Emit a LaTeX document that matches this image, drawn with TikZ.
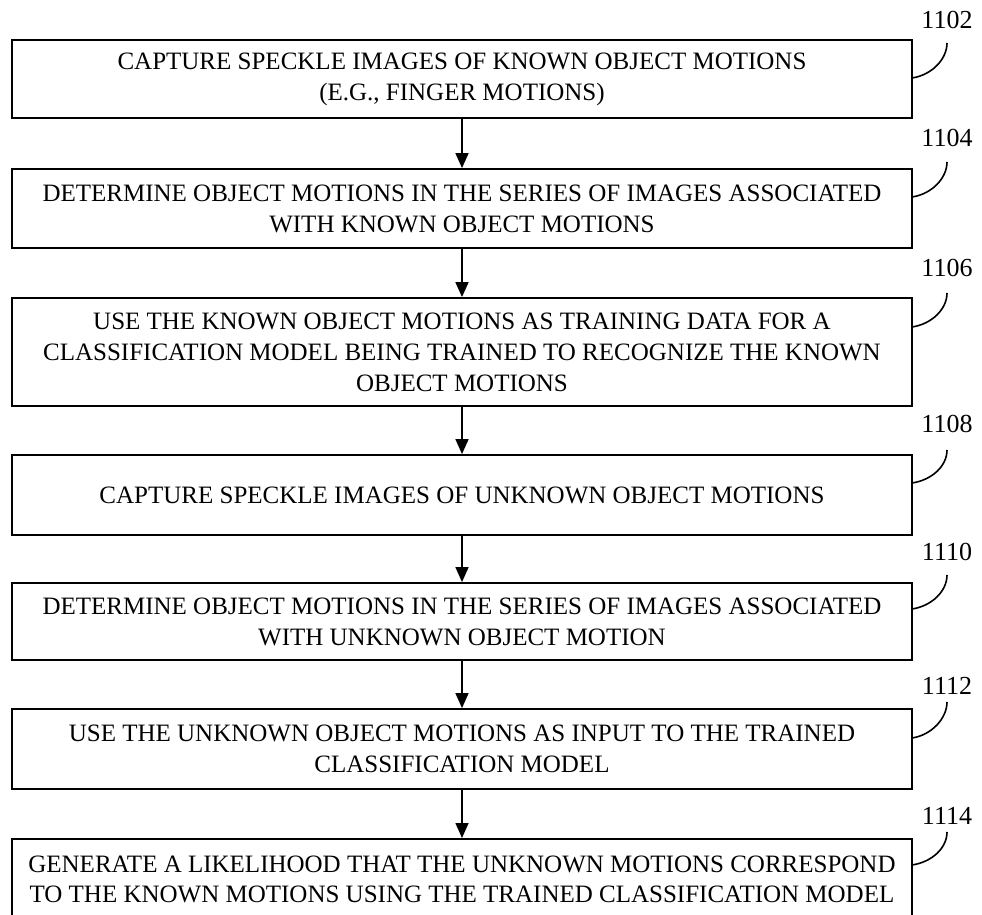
\documentclass[tikz,border=0pt]{standalone}
\usepackage{fontspec}
\setmainfont{Liberation Serif}
\usetikzlibrary{arrows.meta}
\begin{document}
\begin{tikzpicture}[x=1pt,y=-1pt,
  stepbox/.style={draw=black, line width=1.8pt, rectangle, minimum width=900pt, inner sep=0pt,
    align=center, font=\fontsize{25}{31}\selectfont},
  flow/.style={line width=1.6pt, -{Triangle[width=13pt,length=15pt]}},
  hook/.style={line width=1.6pt},
  reflabel/.style={font=\fontsize{26}{26}\selectfont, inner sep=0pt}]
\useasboundingbox (0,0) rectangle (982,915);
\clip (0,0) rectangle (982,915);
\node[stepbox, minimum height=78pt] (b1) at (462,79) {CAPTURE SPECKLE IMAGES OF KNOWN OBJECT MOTIONS\\(E.G., FINGER MOTIONS)};
\node[stepbox, minimum height=79pt] (b2) at (462,208.5) {DETERMINE OBJECT MOTIONS IN THE SERIES OF IMAGES ASSOCIATED\\WITH KNOWN OBJECT MOTIONS};
\node[stepbox, minimum height=108pt] (b3) at (462,352) {USE THE KNOWN OBJECT MOTIONS AS TRAINING DATA FOR A\\CLASSIFICATION MODEL BEING TRAINED TO RECOGNIZE THE KNOWN\\OBJECT MOTIONS};
\node[stepbox, minimum height=80pt] (b4) at (462,495) {CAPTURE SPECKLE IMAGES OF UNKNOWN OBJECT MOTIONS};
\node[stepbox, minimum height=77pt] (b5) at (462,621.5) {DETERMINE OBJECT MOTIONS IN THE SERIES OF IMAGES ASSOCIATED\\WITH UNKNOWN OBJECT MOTION};
\node[stepbox, minimum height=80pt] (b6) at (462,749) {USE THE UNKNOWN OBJECT MOTIONS AS INPUT TO THE TRAINED\\CLASSIFICATION MODEL};
\node[stepbox, minimum height=96pt, anchor=north] (b7) at (462,838) {};
\node[font=\fontsize{25}{30}\selectfont, align=center] (t7) at (462,879) {GENERATE A LIKELIHOOD THAT THE UNKNOWN MOTIONS CORRESPOND\\TO THE KNOWN MOTIONS USING THE TRAINED CLASSIFICATION MODEL};
\foreach \a/\b in {b1/b2,b2/b3,b3/b4,b4/b5,b5/b6,b6/b7}
  \draw[flow] (\a.south) -- (\b.north);
\foreach \n/\lab/\ly/\hy/\ty in {b1/1102/20/78/43, b2/1104/138/197/162, b3/1106/268/327/293, b4/1108/424/483/450, b5/1110/552/609/575, b6/1112/686/738/702, b7/1114/816/865/832}{
  \node[reflabel] (l\n) at (947,\ly) {\lab};
  \coordinate (hs\n) at (912,\hy);
  \coordinate (he\n) at (947,\ty);
  \draw[hook] (hs\n) .. controls ([shift={(20,-3)}]hs\n) and ([shift={(0,16)}]he\n) .. (he\n);
}
\end{tikzpicture}
\end{document}
